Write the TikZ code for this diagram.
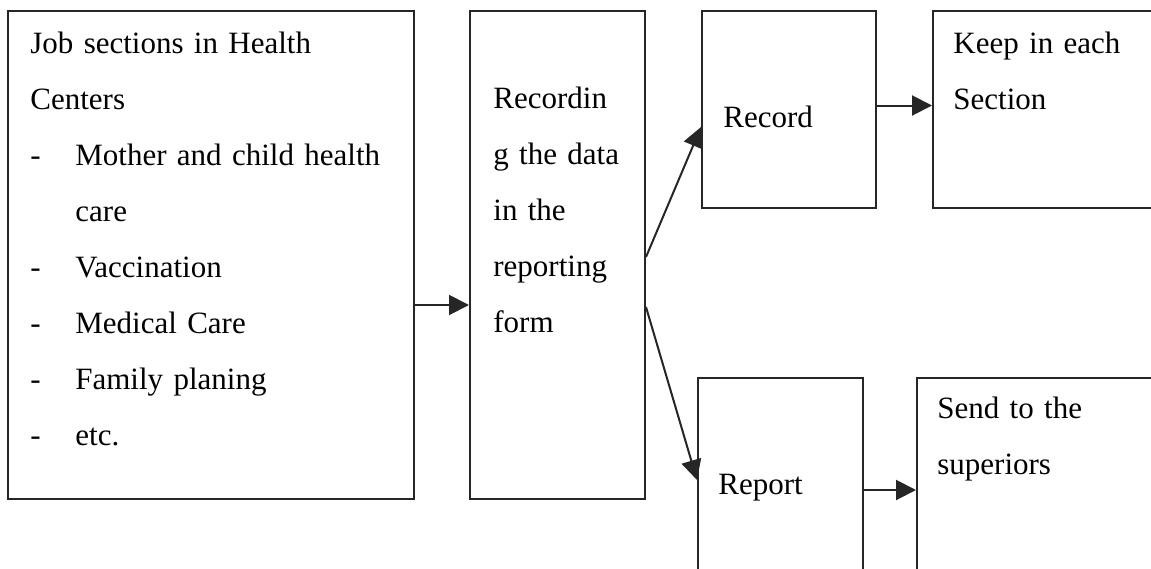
\documentclass[tikz,border=0pt]{standalone}
\usepackage{fontspec}
\setmainfont{Liberation Serif}
\usepackage{tikz}
\usetikzlibrary{arrows.meta,fit}
\newcommand{\listdash}{\makebox[22.5pt][l]{-}}
\tikzset{
	box/.style = {draw = black!85, line width = 1pt, inner sep = 0pt},
	txt/.style = {anchor = base west, inner sep = 0pt, text width = 220pt, align = left,
		font = \fontsize{15.5}{28}\selectfont},
	arr/.style = {draw = black!85, line width = 1pt, -{Triangle[length = 10pt, width = 10pt]}}
}

\begin{document}
\begin{tikzpicture}[x = 0.5pt, y = -0.5pt]
			\useasboundingbox (0, 0) rectangle (1151, 568);
			\clip (0, 0) rectangle (1151, 568);
			% boxes
			\node[box, fit = {(8, 11) (414, 499)}] (jobs) {};
			\node[box, fit = {(470, 11) (645, 499)}] (recform) {};
			\node[box, fit = {(702, 11) (876, 208)}] (record) {};
			\node[box, fit = {(933, 11) (1180, 208)}] (keep) {};
			\node[box, fit = {(698, 378) (863, 602)}] (report) {};
			\node[box, fit = {(917, 378) (1180, 602)}] (send) {};
			% texts
			\node[txt] (jobstext) at (30, 53) {Job sections in Health\\
				Centers\\
				\listdash Mother and child health\\
				\hspace*{22.5pt}care\\
				\listdash Vaccination\\
				\listdash Medical Care\\
				\listdash Family planing\\
				\listdash etc.};
			\node[txt] (recformtext) at (493, 108) {Recordin\\ g the data\\ in the\\ reporting\\ form};
			\node[txt] (recordtext) at (723, 127) {Record};
			\node[txt] (keeptext) at (953, 53) {Keep in each\\ Section};
			\node[txt] (reporttext) at (718, 494) {Report};
			\node[txt] (sendtext) at (937, 418) {Send to the\\ superiors};
			% arrows
			\draw[arr] ([yshift = -25pt]jobs.east) -- ([yshift = -25pt]recform.west);
			\draw[arr] ([yshift = -1pt]recform.east) -- ([yshift = -8.75pt]record.west);
			\draw[arr] ([yshift = -26pt]recform.east) -- ([yshift = 5pt]report.west);
			\draw[arr] ([yshift = 2pt]record.east) -- ([yshift = 2pt]keep.west);
			\draw[arr] (report.east) -- (send.west);
		\end{tikzpicture}
\end{document}
